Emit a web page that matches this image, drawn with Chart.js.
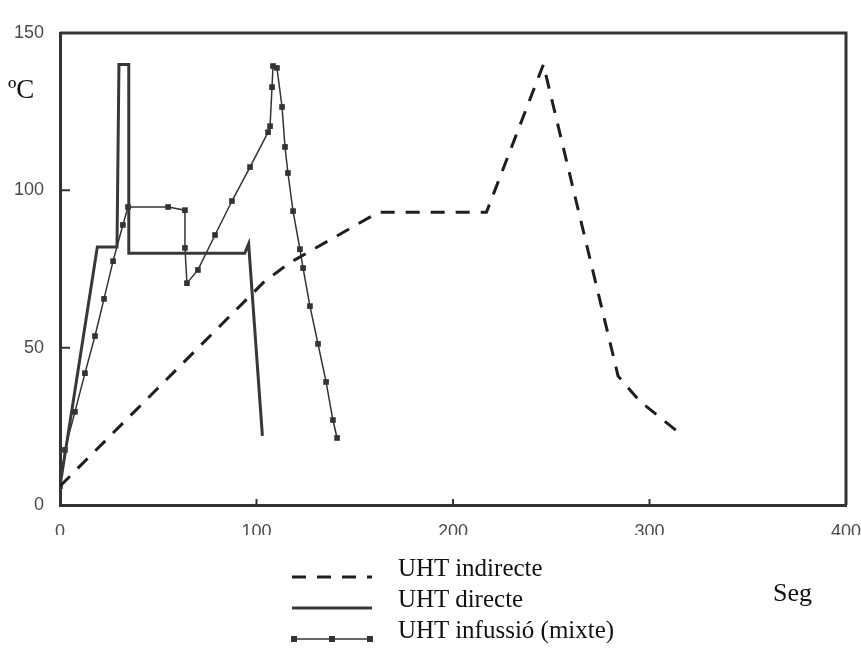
<!DOCTYPE html>
<html>
<head>
<meta charset="utf-8">
<title>UHT</title>
<script src="https://cdn.jsdelivr.net/npm/chart.js@4.4.1/dist/chart.umd.min.js"></script>
<style>
  html, body { margin: 0; padding: 0; background: #fff; }
  #wrap { position: relative; width: 861px; height: 668px; overflow: hidden; }
  #chart { position: absolute; left: 0; top: 0; }
  .lbl { position: absolute; font-family: 'Liberation Serif', serif; color: #111; white-space: nowrap; line-height: 1; }
  #legend { position: absolute; left: 290px; top: 552px; }
  .row { display: flex; align-items: center; height: 31px; }
  .row svg { margin-right: 24px; }
  .row span { font-family: 'Liberation Serif', serif; font-size: 25px; color: #111; line-height: 1; }
</style>
</head>
<body>
<div id="wrap">
  <canvas id="chart" width="861" height="668"></canvas>
  <div class="lbl" style="left:8px; top:76px; font-size:27px;">ºC</div>
  <div class="lbl" style="left:773px; top:580px; font-size:26px;">Seg</div>
  <div id="legend"></div>
</div>
<script>
// UHT temperature profiles — time (s) vs temperature (ºC)

const seriesNames = ['UHT indirecte', 'UHT directe', 'UHT infussió (mixte)'];

const indirectTime = [0, 104, 117, 162, 217, 246, 284, 295, 317];
const indirectTemp = [6, 71, 77, 93, 93, 140, 41, 33, 22];

const directTime = [0, 19, 29, 30, 35, 35, 94, 96, 103];
const directTemp = [6, 82, 82, 140, 140, 80, 80, 83, 22];

const infusionTime = [0, 2.5, 7.6, 12.7, 17.8, 22.4, 27, 32, 34.6, 55, 63.6, 63.6, 64.6, 70.2,
  78.9, 87.5, 96.7, 105.9, 106.9, 107.9, 108.4, 110.4, 113, 114.5, 116, 118.6, 122.1, 123.7,
  127.2, 131.3, 135.4, 138.9, 141];
const infusionTemp = [6, 17.5, 29.6, 41.9, 53.7, 65.5, 77.5, 89, 94.7, 94.7, 93.7, 81.7, 70.5, 74.7,
  85.8, 96.6, 107.4, 118.5, 120.4, 132.8, 139.5, 138.9, 126.5, 113.8, 105.5, 93.4, 81.3, 75.3,
  63.2, 51.2, 39.1, 27, 21.3];

const xTicks = [0, 100, 200, 300, 400];
const yTicks = [0, 50, 100, 150];

const toPoints = (xs, ys) => xs.map((x, i) => ({ x: x, y: ys[i] }));

// frame on top/right + short inward tick marks
const framePlugin = {
  id: 'frame',
  afterDatasetsDraw(chart) {
    const { ctx, chartArea: a, scales: { x, y } } = chart;
    ctx.save();
    ctx.strokeStyle = '#333';
    ctx.lineWidth = 3;
    ctx.beginPath();
    ctx.moveTo(a.left, a.top);
    ctx.lineTo(a.right, a.top);
    ctx.lineTo(a.right, a.bottom);
    ctx.stroke();
    ctx.lineWidth = 2;
    ctx.beginPath();
    yTicks.filter(v => v > y.min && v < y.max).forEach(v => {
      const py = y.getPixelForValue(v);
      ctx.moveTo(a.left, py);
      ctx.lineTo(a.left + 10, py);
    });
    xTicks.filter(v => v > x.min && v < x.max).forEach(v => {
      const px = x.getPixelForValue(v);
      ctx.moveTo(px, a.bottom);
      ctx.lineTo(px, a.bottom - 6);
    });
    ctx.stroke();
    ctx.restore();
  }
};

const tickFont = { family: 'Liberation Sans', size: 18 };

const chart = new Chart(document.getElementById('chart'), {
  type: 'line',
  data: {
    datasets: [
      {
        label: seriesNames[0],
        data: toPoints(indirectTime, indirectTemp),
        borderColor: '#1e1e1e', borderWidth: 3, borderDash: [14, 11],
        pointRadius: 0, tension: 0
      },
      {
        label: seriesNames[1],
        data: toPoints(directTime, directTemp),
        borderColor: '#383838', borderWidth: 3,
        pointRadius: 0, tension: 0
      },
      {
        label: seriesNames[2],
        data: toPoints(infusionTime, infusionTemp),
        borderColor: '#333', borderWidth: 1.5,
        pointStyle: 'rect', pointRadius: 4,
        pointBackgroundColor: '#333', pointBorderColor: '#333', pointBorderWidth: 0,
        tension: 0
      }
    ]
  },
  options: {
    responsive: false,
    animation: false,
    events: [],
    layout: { padding: { left: 0, top: 33, right: 15, bottom: 133 } },
    plugins: { legend: { display: false }, tooltip: { enabled: false } },
    scales: {
      x: {
        type: 'linear', min: 0, max: 400,
        afterBuildTicks: s => { s.ticks = xTicks.map(v => ({ value: v })); },
        afterFit: s => { s.height = 30; s.paddingLeft = 0; s.paddingRight = 0; },
        grid: { display: false },
        border: { display: true, color: '#333', width: 3 },
        ticks: { font: tickFont, color: '#4a4a4a', padding: 8, maxRotation: 0 }
      },
      y: {
        min: 0, max: 150,
        afterBuildTicks: s => { s.ticks = yTicks.map(v => ({ value: v })); },
        afterFit: s => { s.width = 60; },
        grid: { display: false },
        border: { display: true, color: '#333', width: 3 },
        ticks: { font: tickFont, color: '#4a4a4a', padding: 8 }
      }
    }
  },
  plugins: [framePlugin]
});

// HTML legend built from the dataset styles
const legend = document.getElementById('legend');
chart.data.datasets.forEach(ds => {
  const row = document.createElement('div');
  row.className = 'row';
  const ns = 'http://www.w3.org/2000/svg';
  const svg = document.createElementNS(ns, 'svg');
  svg.setAttribute('width', 84);
  svg.setAttribute('height', 31);
  const line = document.createElementNS(ns, 'line');
  line.setAttribute('x1', 2); line.setAttribute('x2', 82);
  line.setAttribute('y1', 25); line.setAttribute('y2', 25);
  line.setAttribute('stroke', ds.borderColor);
  line.setAttribute('stroke-width', ds.borderWidth);
  if (ds.borderDash) line.setAttribute('stroke-dasharray', ds.borderDash.join(' '));
  svg.appendChild(line);
  if (ds.pointStyle === 'rect') {
    [4, 42, 80].forEach(cx => {
      const r = document.createElementNS(ns, 'rect');
      r.setAttribute('x', cx - 3); r.setAttribute('y', 22);
      r.setAttribute('width', 6); r.setAttribute('height', 6);
      r.setAttribute('fill', ds.pointBackgroundColor);
      svg.appendChild(r);
    });
  }
  const span = document.createElement('span');
  span.textContent = ds.label;
  row.appendChild(svg);
  row.appendChild(span);
  legend.appendChild(row);
});
</script>
</body>
</html>
